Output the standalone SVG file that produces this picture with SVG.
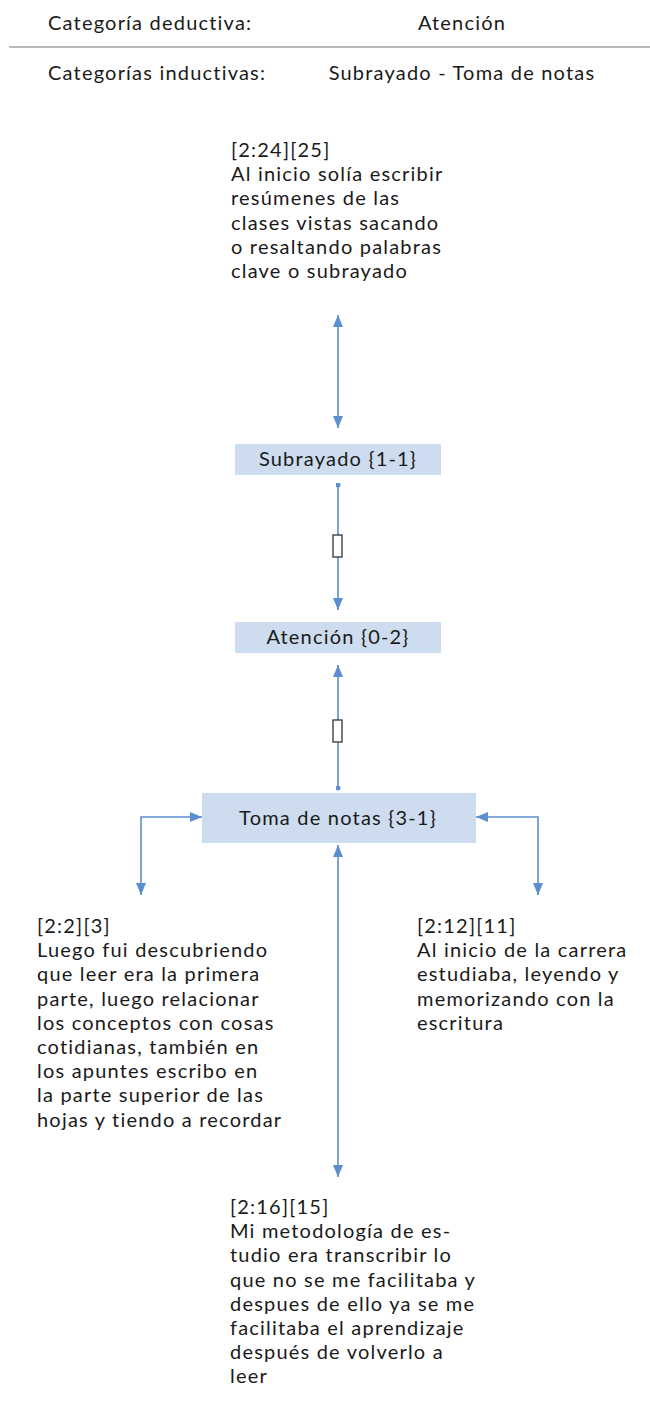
<svg xmlns="http://www.w3.org/2000/svg" width="650" height="1407" viewBox="0 0 650 1407">
<style>
text{font-family:Lato,"Open Sans","Liberation Sans",sans-serif;font-size:20px;letter-spacing:1.2px;fill:#1a1a1a}
.c{text-anchor:middle}
.box{fill:#cddcee}
.con{stroke:#5b8fd0;stroke-width:1.6;fill:none}
.tofu{fill:#fff;stroke:#333;stroke-width:1.3}
</style>
<defs>
<marker id="ah" viewBox="0 0 12 10" refX="12" refY="5" markerWidth="12" markerHeight="10" markerUnits="userSpaceOnUse" orient="auto-start-reverse">
<path d="M0,0 L12,5 L0,10 z" fill="#5b8fd0"/>
</marker>
<marker id="dot" viewBox="0 0 6 6" refX="3" refY="3" markerWidth="5" markerHeight="5" markerUnits="userSpaceOnUse">
<circle cx="3" cy="3" r="3" fill="#5b8fd0"/>
</marker>
</defs>
<g id="header">
<text x="48" y="30">Categoría deductiva:</text>
<text class="c" x="462" y="30">Atención</text>
<line x1="9" y1="47" x2="650" y2="47" stroke="#a0a0a0" stroke-width="1.5"/>
<text x="48" y="80">Categorías inductivas:</text>
<text class="c" x="462" y="80">Subrayado - Toma de notas</text>
</g>
<g id="connectors">
<line class="con" x1="338" y1="315" x2="338" y2="428" marker-start="url(#ah)" marker-end="url(#ah)"/>
<line class="con" x1="338" y1="485" x2="338" y2="610" marker-start="url(#dot)" marker-end="url(#ah)"/>
<rect class="tofu" x="333" y="535" width="9" height="22"/>
<line class="con" x1="338" y1="788" x2="338" y2="665" marker-start="url(#dot)" marker-end="url(#ah)"/>
<rect class="tofu" x="333" y="720" width="9" height="22"/>
<polyline class="con" points="141,895 141,817 202,817" marker-start="url(#ah)" marker-end="url(#ah)"/>
<polyline class="con" points="538,895 538,817 476,817" marker-start="url(#ah)" marker-end="url(#ah)"/>
<line class="con" x1="338" y1="845" x2="338" y2="1177" marker-start="url(#ah)" marker-end="url(#ah)"/>
</g>
<g id="n-top">
<text x="231" y="157"><tspan x="231">[2:24][25]</tspan><tspan x="231" dy="24.2">Al inicio solía escribir</tspan><tspan x="231" dy="24.2">resúmenes de las</tspan><tspan x="231" dy="24.2">clases vistas sacando</tspan><tspan x="231" dy="24.2">o resaltando palabras</tspan><tspan x="231" dy="24.2">clave o subrayado</tspan></text>
</g>
<g id="n-subrayado">
<rect class="box" x="235" y="444" width="206" height="31"/>
<text class="c" x="338" y="466">Subrayado {1-1}</text>
</g>
<g id="n-atencion">
<rect class="box" x="235" y="622" width="206" height="31"/>
<text class="c" x="338" y="644">Atención {0-2}</text>
</g>
<g id="n-toma">
<rect class="box" x="202" y="793" width="274" height="50"/>
<text class="c" x="338" y="825">Toma de notas {3-1}</text>
</g>
<g id="n-left">
<text x="37" y="933"><tspan x="37">[2:2][3]</tspan><tspan x="37" dy="24.2">Luego fui descubriendo</tspan><tspan x="37" dy="24.2">que leer era la primera</tspan><tspan x="37" dy="24.2">parte, luego relacionar</tspan><tspan x="37" dy="24.2">los conceptos con cosas</tspan><tspan x="37" dy="24.2">cotidianas, también en</tspan><tspan x="37" dy="24.2">los apuntes escribo en</tspan><tspan x="37" dy="24.2">la parte superior de las</tspan><tspan x="37" dy="24.2">hojas y tiendo a recordar</tspan></text>
</g>
<g id="n-right">
<text x="417" y="933"><tspan x="417">[2:12][11]</tspan><tspan x="417" dy="24.2">Al inicio de la carrera</tspan><tspan x="417" dy="24.2">estudiaba, leyendo y</tspan><tspan x="417" dy="24.2">memorizando con la</tspan><tspan x="417" dy="24.2">escritura</tspan></text>
</g>
<g id="n-bottom">
<text x="230" y="1214"><tspan x="230">[2:16][15]</tspan><tspan x="230" dy="24.2">Mi metodología de es-</tspan><tspan x="230" dy="24.2">tudio era transcribir lo</tspan><tspan x="230" dy="24.2">que no se me facilitaba y</tspan><tspan x="230" dy="24.2">despues de ello ya se me</tspan><tspan x="230" dy="24.2">facilitaba el aprendizaje</tspan><tspan x="230" dy="24.2">después de volverlo a</tspan><tspan x="230" dy="24.2">leer</tspan></text>
</g>
</svg>
